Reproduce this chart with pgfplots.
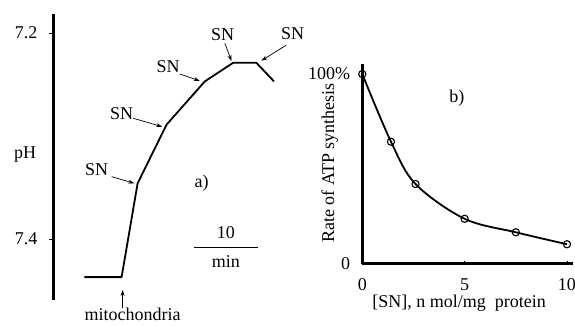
\documentclass[border=0pt]{standalone}
\usepackage{pgfplots}
\pgfplotsset{compat=1.18}
\usepackage{fontspec}
\setmainfont{Liberation Serif}
\usetikzlibrary{arrows.meta}
\begin{document}
\fontsize{18}{21}\selectfont
\begin{tikzpicture}[x=1pt,y=1pt]
\useasboundingbox (0,0) rectangle (575,326);
% ---------- panel a ----------
\begin{axis}[
  at={(53.5pt,26pt)}, anchor=south west,
  scale only axis, width=236.5pt, height=286pt,
  xmin=0, xmax=37.4, ymin=7.1816, ymax=7.4592,
  y dir=reverse,
  axis x line=none, axis y line=left,
  axis line style={-, line width=3pt},
  ytick={7.2,7.4}, yticklabels={7.2,7.4},
  tick align=outside, major tick length=4pt,
  tick style={line width=0.8pt, black},
  yticklabel style={xshift=-6pt},
  clip=false,
]
\addplot[black, line width=1.8pt, line join=round] coordinates {
 (4.87,7.437) (10.77,7.437) (13.30,7.346) (17.88,7.289)
 (23.93,7.247) (28.40,7.229) (32.09,7.229) (34.87,7.247)};
\tikzset{ann/.style={black, line width=0.7pt, -{Stealth[length=6pt,width=4pt]}}}
\draw[ann] (axis cs:9.19,7.3395) -- (axis cs:12.76,7.3459);
\draw[ann] (axis cs:12.61,7.2828) -- (axis cs:17.19,7.2910);
\draw[ann] (axis cs:19.98,7.2398) -- (axis cs:23.14,7.2466);
\draw[ann] (axis cs:27.09,7.2100) -- (axis cs:28.15,7.2272);
\draw[ann] (axis cs:36.84,7.2117) -- (axis cs:32.89,7.2269);
\draw[ann] (axis cs:10.93,7.4670) -- (axis cs:10.93,7.4495);
\node at (axis cs:12.5,7.4735) {mitochondria};
\node at (axis cs:6.82,7.333) {SN};
\node at (axis cs:10.77,7.2786) {SN};
\node at (axis cs:18.14,7.2327) {SN};
\node at (axis cs:26.73,7.2013) {SN};
\node at (axis cs:37.8,7.201) {SN};
\node at (axis cs:23.41,7.3459) {a)};
\draw[black, line width=1.2pt] (axis cs:22.24,7.4084) -- (axis cs:32.26,7.4084);
\node at (axis cs:27.25,7.3942) {10};
\node at (axis cs:27.25,7.4214) {min};
\end{axis}
\node at (25,171) {pH};
% ---------- panel b ----------
\begin{axis}[
  at={(362.3pt,62pt)}, anchor=south west,
  scale only axis, width=210.4pt, height=200pt,
  xmin=0, xmax=10.28, ymin=0, ymax=105.3,
  axis lines=left,
  axis line style={-, line width=3pt},
  xtick={0,5,10}, xticklabels={0,5,10},
  ytick={0,100}, yticklabels={0,100\%},
  tick align=inside,
  xtick style={line width=0.7pt, black}, ytick style={draw=none},
  major tick length=3pt,
  xticklabel style={yshift=-8.5pt},
  yticklabel style={xshift=-6pt},
  xlabel={[SN], n mol/mg\ \ protein},
  ylabel={Rate of ATP synthesis},
  xlabel style={at={(axis description cs:0.46,0)}, anchor=center, yshift=-39.5pt},
  ylabel style={at={(axis description cs:-0.155,0.505)}, anchor=center},
  clip=false,
]
\addplot[black, line width=1.8pt, smooth, tension=0.55,
  mark=o, mark size=3.6pt, mark options={fill=white, line width=1.1pt}]
  coordinates {(0,100) (1.4,64.4) (2.6,42.1) (5,23.8) (7.5,16.7) (10,10.4)};
\node at (axis cs:4.62,87.2) {b)};
\end{axis}
\end{tikzpicture}
\end{document}
